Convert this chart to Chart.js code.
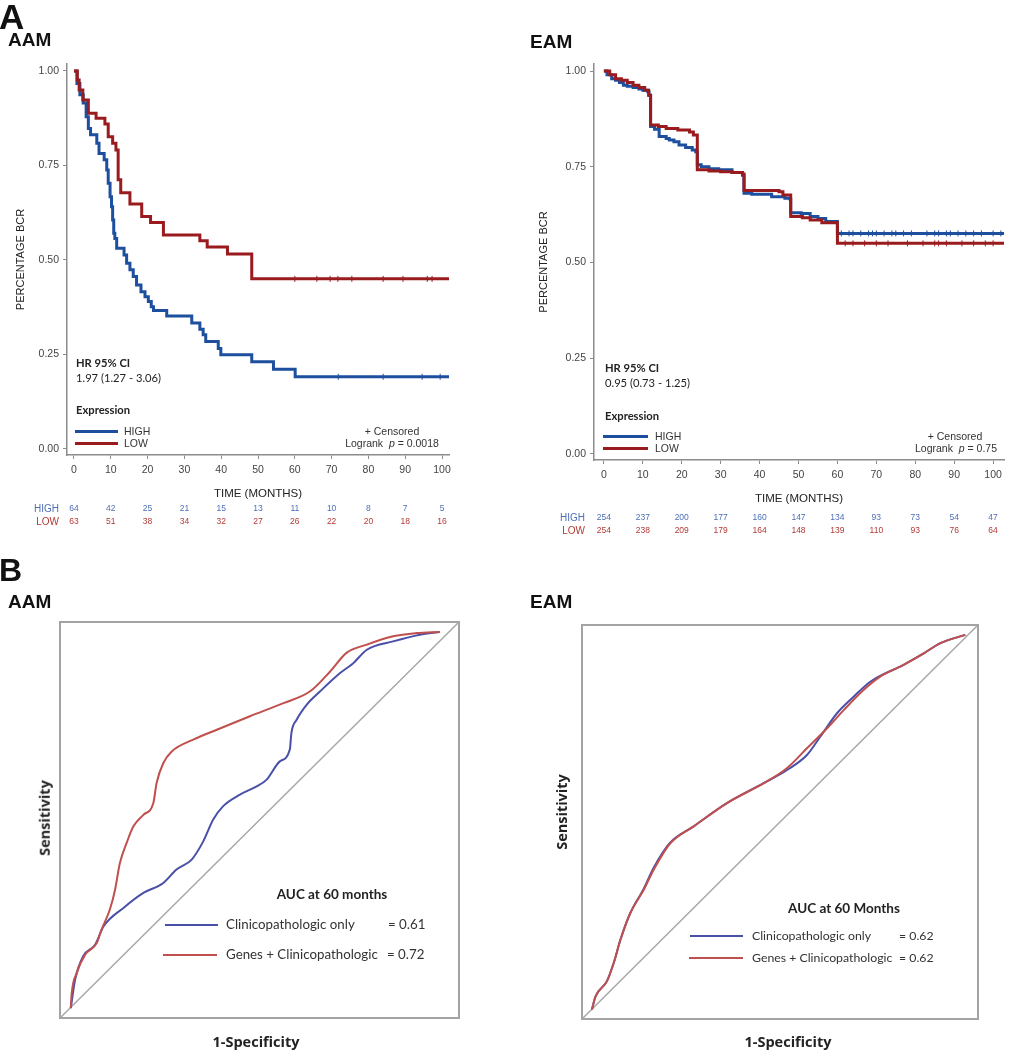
<!DOCTYPE html>
<html>
<head>
<meta charset="utf-8">
<script src="https://cdn.jsdelivr.net/npm/chart.js@4.4.1/dist/chart.umd.min.js"></script>
<style>
body { margin: 0; background: #fff; }
#page { position: relative; width: 1009px; height: 1050px; overflow: hidden; background: #fff; font-family: "Liberation Sans", Arial, sans-serif; }
canvas { position: absolute; }
.t { position: absolute; white-space: nowrap; line-height: 1; color: #222; }
.sw { position: absolute; height: 3px; }
</style>
</head>
<body>
<div id="page">
  <canvas id="kmAAM" width="460" height="545" style="left:0;top:0"></canvas>
  <canvas id="kmEAM" width="489" height="545" style="left:520px;top:0"></canvas>
  <canvas id="rocAAM" width="500" height="470" style="left:0;top:580px"></canvas>
  <canvas id="rocEAM" width="489" height="470" style="left:520px;top:580px"></canvas>
</div>
<script>
// ---- Kaplan-Meier data ----
var aamHighTime = [0,0.8,1.6,2.5,3.3,3.9,4.5,6.2,6.8,8.2,8.9,9.3,9.8,10.2,10.5,10.8,11.1,11.6,13.6,14.3,15.2,16.1,17,18.2,19.3,20.2,21,21.6,25.2,32,34.2,35.1,35.8,39.2,39.9,48.3,54.2,60.1,102]
var aamHighSurv = [1,0.967,0.937,0.915,0.879,0.848,0.831,0.809,0.782,0.765,0.738,0.703,0.667,0.641,0.606,0.571,0.557,0.531,0.513,0.491,0.474,0.456,0.434,0.416,0.403,0.39,0.376,0.366,0.352,0.333,0.317,0.302,0.284,0.266,0.249,0.231,0.211,0.191,0.191]
var aamLowTime = [0,0.9,1.4,2.4,3.9,6.0,8.4,9.3,10.5,11.4,12.0,12.7,15.2,18.4,20.8,24.3,34.2,36.2,41.7,48.3,102]
var aamLowSurv = [1,0.976,0.95,0.923,0.888,0.875,0.86,0.826,0.809,0.791,0.712,0.678,0.648,0.615,0.599,0.566,0.551,0.534,0.516,0.45,0.45]
var aamHighCens = [71.8,84,94.6,99.5]
var aamLowCens = [60,66,69.6,71.7,75.5,84,89.4,96,97.3]

var eamHighTime = [0,0.8,2,3,4,5,6,7.5,9,10,11.3,11.6,12,13,14.2,16,16.8,18,19.3,21,22.7,23.6,24,25,27,29.5,32.9,35.6,36,38,43.1,46.5,47.8,48,50.7,53,55,57,60,103]
var eamHighSurv = [1,0.99,0.98,0.976,0.97,0.963,0.96,0.957,0.953,0.95,0.946,0.937,0.855,0.848,0.829,0.824,0.82,0.815,0.807,0.8,0.794,0.789,0.755,0.75,0.745,0.742,0.735,0.728,0.681,0.678,0.672,0.668,0.666,0.63,0.628,0.62,0.615,0.607,0.576,0.576]
var eamLowTime = [0,1.5,3,4.5,6,7.5,9,10.5,11.5,12,14,16,19,22,23,24,27,30,33,35.6,36,45,46,48,51,53,56,60,103]
var eamLowSurv = [1,0.99,0.98,0.976,0.97,0.963,0.957,0.95,0.937,0.859,0.855,0.85,0.846,0.841,0.833,0.742,0.739,0.737,0.735,0.731,0.688,0.685,0.676,0.62,0.617,0.611,0.604,0.55,0.55]
var eamHighCens = [61,63,64,66,68,69,70,72,74,75,77,79,83,85,86,88,89,91,93,95,97,100,102]
var eamLowCens = [62,64,67,70,73,78,82,85,86,88,92,95,98,100]

// number at risk
var riskTimes = [0,10,20,30,40,50,60,70,80,90,100]
var aamRiskHigh = [64,42,25,21,15,13,11,10,8,7,5]
var aamRiskLow = [63,51,38,34,32,27,26,22,20,18,16]
var eamRiskHigh = [254,237,200,177,160,147,134,93,73,54,47]
var eamRiskLow = [254,238,209,179,164,148,139,110,93,76,64]

var xTickVals = [0,10,20,30,40,50,60,70,80,90,100]
var yTickVals = [0,0.25,0.5,0.75,1]

// ---- ROC data ----
var aamClinX = [0.027,0.038,0.058,0.088,0.109,0.159,0.209,0.259,0.292,0.330,0.359,0.384,0.409,0.451,0.493,0.518,0.551,0.576,0.580,0.593,0.618,0.652,0.702,0.735,0.769,0.835,0.902,0.952]
var aamClinY = [0.025,0.097,0.156,0.185,0.231,0.278,0.316,0.341,0.375,0.400,0.446,0.501,0.535,0.564,0.585,0.602,0.648,0.678,0.720,0.753,0.791,0.825,0.871,0.896,0.930,0.951,0.968,0.975]
var aamGenesX = [0.027,0.029,0.042,0.063,0.092,0.104,0.125,0.138,0.150,0.167,0.184,0.209,0.234,0.242,0.259,0.280,0.334,0.393,0.476,0.560,0.627,0.677,0.718,0.769,0.835,0.894,0.952]
var aamGenesY = [0.025,0.059,0.114,0.160,0.189,0.223,0.274,0.324,0.391,0.442,0.484,0.513,0.543,0.593,0.644,0.673,0.703,0.728,0.762,0.795,0.825,0.875,0.922,0.943,0.964,0.972,0.975]
var eamClinX = [0.025,0.034,0.063,0.080,0.097,0.122,0.156,0.181,0.223,0.282,0.366,0.467,0.518,0.568,0.602,0.644,0.686,0.728,0.812,0.863,0.905,0.968]
var eamClinY = [0.024,0.057,0.096,0.142,0.201,0.269,0.331,0.384,0.448,0.489,0.548,0.603,0.632,0.670,0.717,0.776,0.818,0.856,0.899,0.928,0.954,0.975]
var eamGenesX = [0.025,0.034,0.063,0.080,0.097,0.122,0.156,0.181,0.223,0.282,0.366,0.467,0.518,0.568,0.619,0.661,0.711,0.753,0.812,0.863,0.905,0.968]
var eamGenesY = [0.024,0.057,0.096,0.142,0.201,0.269,0.328,0.379,0.446,0.489,0.548,0.603,0.637,0.687,0.738,0.784,0.835,0.869,0.899,0.928,0.954,0.975]

var kmBlue = '#1d4f9e'
var kmRed = '#9a1b1e'
var riskBlue = '#4d6fb8'
var riskRed = '#b23a36'
var rocBlue = '#4a50a8'
var rocRed = '#c0504d'
var axisGray = '#8c8c8c'
var sans = '"Liberation Sans", Arial, sans-serif'

function pts(xs, ys){
   return xs.map(function(x, i){ return {x: x, y: ys[i]} })
}

// survival value at time t (for the censor marks)
function survAt(times, surv, t){
   var s = surv[0]
   for (var i = 0; i < times.length; i++){
      if (times[i] <= t) s = surv[i]
   }
   return s
}

function censPts(cens, times, surv){
   return cens.map(function(t){ return {x: t, y: survAt(times, surv, t)} })
}

var atRiskPlugin = {
   id: 'atRisk',
   afterDraw: function(chart, args, opts){
      var ctx = chart.ctx
      var xs = chart.scales.x
      ctx.save()
      ctx.textBaseline = 'middle'
      ctx.font = '10px ' + sans
      ctx.textAlign = 'right'
      ctx.fillStyle = riskBlue
      ctx.fillText('HIGH', opts.labelX, opts.yHigh)
      ctx.fillStyle = riskRed
      ctx.fillText('LOW', opts.labelX, opts.yLow)
      ctx.font = '8.5px ' + sans
      ctx.textAlign = 'center'
      for (var i = 0; i < riskTimes.length; i++){
         var px = xs.getPixelForValue(riskTimes[i])
         ctx.fillStyle = riskBlue
         ctx.fillText(String(opts.high[i]), px, opts.yHigh)
         ctx.fillStyle = riskRed
         ctx.fillText(String(opts.low[i]), px, opts.yLow)
      }
      ctx.restore()
   }
}

function makeKM(id, c){
   var ctx = document.getElementById(id).getContext('2d')
   return new Chart(ctx, {
      type: 'line',
      data: {
         datasets: [
            {data: censPts(c.lowCens, c.lowT, c.lowS), type: 'scatter', pointStyle: 'line', rotation: 90, pointRadius: 3, borderColor: kmRed, borderWidth: 1},
            {data: censPts(c.highCens, c.highT, c.highS), type: 'scatter', pointStyle: 'line', rotation: 90, pointRadius: 3, borderColor: kmBlue, borderWidth: 1},
            {data: pts(c.lowT, c.lowS), stepped: true, borderColor: kmRed, borderWidth: 3, pointRadius: 0, fill: false},
            {data: pts(c.highT, c.highS), stepped: true, borderColor: kmBlue, borderWidth: 3, pointRadius: 0, fill: false}
         ]
      },
      options: {
         responsive: false,
         animation: false,
         devicePixelRatio: 1,
         layout: {padding: {top: 64, left: 0, right: c.padRight, bottom: c.padBottom}},
         plugins: {
            legend: {display: false},
            tooltip: {enabled: false},
            atRisk: {high: c.riskHigh, low: c.riskLow, labelX: c.labelX, yHigh: c.yHigh, yLow: c.yLow}
         },
         scales: {
            x: {
               type: 'linear', min: c.xMin, max: c.xMax,
               afterBuildTicks: function(s){ s.ticks = xTickVals.map(function(v){ return {value: v} }) },
               afterFit: function(s){ s.height = 50 },
               grid: {drawOnChartArea: false, drawTicks: true, tickLength: 4, color: axisGray},
               border: {color: axisGray, width: 1.5},
               ticks: {color: '#444', font: {size: 10.5, family: sans}, padding: 5, maxRotation: 0, autoSkip: false, callback: function(v){ return v }},
               title: {display: true, text: 'TIME (MONTHS)', color: '#222', font: {size: 11.5, family: sans}, padding: {top: c.xTitlePad}}
            },
            y: {
               type: 'linear', min: c.yMin, max: c.yMax,
               afterBuildTicks: function(s){ s.ticks = yTickVals.map(function(v){ return {value: v} }) },
               afterFit: function(s){ s.width = c.yWidth },
               grid: {drawOnChartArea: false, drawTicks: true, tickLength: 4, color: axisGray},
               border: {color: axisGray, width: 1.5},
               ticks: {color: '#444', font: {size: 10.5, family: sans}, padding: 4, autoSkip: false, callback: function(v){ return v.toFixed(2) }},
               title: {display: true, text: 'PERCENTAGE BCR', color: '#222', font: {size: 11, family: sans}, padding: {top: c.yTitlePad}}
            }
         }
      },
      plugins: [atRiskPlugin]
   })
}

var boxPlugin = {
   id: 'box',
   beforeDatasetsDraw: function(chart){
      var a = chart.chartArea, ctx = chart.ctx
      ctx.save()
      ctx.strokeStyle = '#a3a3a3'
      ctx.lineWidth = 2
      ctx.strokeRect(a.left, a.top, a.right - a.left, a.bottom - a.top)
      ctx.restore()
   }
}

function makeROC(id, c){
   var ctx = document.getElementById(id).getContext('2d')
   return new Chart(ctx, {
      type: 'line',
      data: {
         datasets: [
            {data: pts(c.genesX, c.genesY), borderColor: rocRed, borderWidth: 2, pointRadius: 0, tension: 0.4, cubicInterpolationMode: 'monotone'},
            {data: pts(c.clinX, c.clinY), borderColor: rocBlue, borderWidth: 2, pointRadius: 0, tension: 0.4, cubicInterpolationMode: 'monotone'},
            {data: [{x: 0, y: 0}, {x: 1, y: 1}], borderColor: '#a8a8a8', borderWidth: 1.5, pointRadius: 0}
         ]
      },
      options: {
         responsive: false,
         animation: false,
         devicePixelRatio: 1,
         layout: {padding: c.pad},
         plugins: {legend: {display: false}, tooltip: {enabled: false}},
         scales: {
            x: {type: 'linear', min: 0, max: 1, display: false},
            y: {type: 'linear', min: 0, max: 1, display: false}
         }
      },
      plugins: [boxPlugin]
   })
}

makeKM('kmAAM', {
   highT: aamHighTime, highS: aamHighSurv, lowT: aamLowTime, lowS: aamLowSurv,
   highCens: aamHighCens, lowCens: aamLowCens,
   riskHigh: aamRiskHigh, riskLow: aamRiskLow,
   xMin: -1.9, xMax: 101.9, yMin: -0.016, yMax: 1.0185,
   padRight: 11, padBottom: 40, yWidth: 67, xTitlePad: 12, yTitlePad: 14,
   labelX: 59, yHigh: 509, yLow: 522
})
makeKM('kmEAM', {
   highT: eamHighTime, highS: eamHighSurv, lowT: eamLowTime, lowS: eamLowSurv,
   highCens: eamHighCens, lowCens: eamLowCens,
   riskHigh: eamRiskHigh, riskLow: eamRiskLow,
   xMin: -2.54, xMax: 102.8, yMin: -0.0157, yMax: 1.0183,
   padRight: 1, padBottom: 35, yWidth: 74, xTitlePad: 10, yTitlePad: 17,
   labelX: 65, yHigh: 518, yLow: 531
})
makeROC('rocAAM', {clinX: aamClinX, clinY: aamClinY, genesX: aamGenesX, genesY: aamGenesY,
   pad: {left: 60, right: 41, top: 42, bottom: 32}})
makeROC('rocEAM', {clinX: eamClinX, clinY: eamClinY, genesX: eamGenesX, genesY: eamGenesY,
   pad: {left: 62, right: 31, top: 45, bottom: 31}})

// ---- text overlays ----
var page = document.getElementById('page')
function label(text, x, y, css, align){
   var d = document.createElement('div')
   d.className = 't'
   d.innerHTML = text
   var tr = 'translate(0,-50%)'
   if (align == 'center') tr = 'translate(-50%,-50%)'
   if (align == 'rot') tr = 'translate(-50%,-50%) rotate(-90deg)'
   d.style.cssText = 'left:' + x + 'px;top:' + y + 'px;transform:' + tr + ';' + (css || '')
   page.appendChild(d)
}
function swatch(x, y, w, color, h){
   var d = document.createElement('div')
   d.className = 'sw'
   d.style.cssText = 'left:' + x + 'px;top:' + (y - h / 2) + 'px;width:' + w + 'px;height:' + h + 'px;background:' + color
   page.appendChild(d)
}

var panelCss = 'font-family:' + sans + ';font-weight:bold;color:#111;'
label('A', -1, 16, panelCss + 'font-size:35px')
label('B', -1, 570, panelCss + 'font-size:32px')
label('AAM', 8, 39, panelCss + 'font-size:19px')
label('EAM', 530, 41, panelCss + 'font-size:19px')
label('AAM', 8, 601, panelCss + 'font-size:19px')
label('EAM', 530, 601, panelCss + 'font-size:19px')

var hrCss = 'font-family:Lato,sans-serif;font-size:11.2px;color:#222;'
var legCss = 'font-family:' + sans + ';font-size:10.5px;color:#333;'
// AAM KM annotations
label('HR 95% CI', 76, 363, hrCss + 'font-weight:bold')
label('1.97 (1.27 - 3.06)', 76, 378, hrCss)
label('Expression', 76, 410, hrCss + 'font-weight:bold')
swatch(75, 431, 43, kmBlue, 3)
swatch(75, 443, 43, kmRed, 3)
label('HIGH', 124, 431, legCss)
label('LOW', 124, 443, legCss)
label('+ Censored', 392, 431, legCss, 'center')
label('Logrank&nbsp; <i>p</i> = 0.0018', 392, 443, legCss, 'center')
// EAM KM annotations
label('HR 95% CI', 605, 368, hrCss + 'font-weight:bold')
label('0.95 (0.73 - 1.25)', 605, 383, hrCss)
label('Expression', 605, 416, hrCss + 'font-weight:bold')
swatch(603, 436, 45, kmBlue, 3)
swatch(603, 448, 45, kmRed, 3)
label('HIGH', 655, 436, legCss)
label('LOW', 655, 448, legCss)
label('+ Censored', 955, 436, legCss, 'center')
label('Logrank&nbsp; <i>p</i> = 0.75', 956, 448, legCss, 'center')

// ROC annotations
var rocTitleCss = 'font-family:"Open Sans",sans-serif;font-weight:bold;font-size:14.5px;color:#222;'
var rocLegCss = 'font-family:Lato,sans-serif;font-size:13.3px;color:#333;'
var rocLegCss2 = 'font-family:Lato,sans-serif;font-size:12.3px;color:#333;'
label('Sensitivity', 45, 818, rocTitleCss, 'rot')
label('1-Specificity', 256, 1042, rocTitleCss, 'center')
label('Sensitivity', 562, 812, rocTitleCss, 'rot')
label('1-Specificity', 788, 1042, rocTitleCss, 'center')

label('AUC at 60 months', 332, 895, rocLegCss + 'font-size:13.5px;font-weight:bold;color:#222', 'center')
swatch(165, 925, 53, rocBlue, 2)
swatch(163, 955, 54, rocRed, 2)
label('Clinicopathologic only', 226, 925, rocLegCss)
label('= 0.61', 388, 925, rocLegCss)
label('Genes + Clinicopathologic', 226, 955, rocLegCss)
label('= 0.72', 387, 955, rocLegCss)

label('AUC at 60 Months', 844, 909, rocLegCss + 'font-size:13.5px;font-weight:bold;color:#222', 'center')
swatch(690, 936, 53, rocBlue, 2)
swatch(689, 958, 54, rocRed, 2)
label('Clinicopathologic only', 752, 936, rocLegCss2)
label('= 0.62', 899, 936, rocLegCss2)
label('Genes + Clinicopathologic', 752, 958, rocLegCss2)
label('= 0.62', 899, 958, rocLegCss2)
</script>
</body>
</html>
